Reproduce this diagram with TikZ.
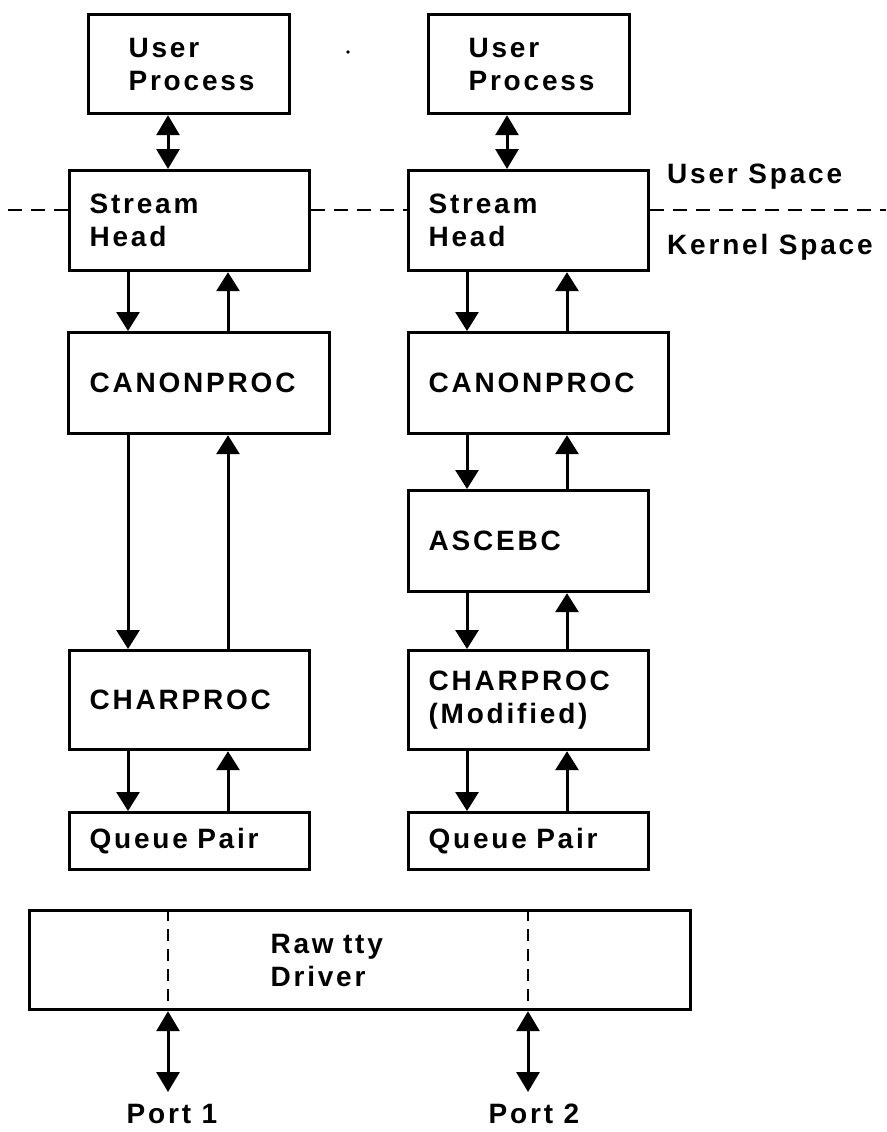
\documentclass[tikz,border=0pt]{standalone}
\usepackage{fontspec}
\newfontfamily\lblfont[LetterSpace=10]{Liberation Sans}
\newcommand\boxfont{\lblfont\bfseries\fontsize{28}{33}\selectfont}
\usetikzlibrary{arrows.meta}
\tikzset{
  blk/.style={draw, line width=3.2pt, anchor=north west, inner ysep=0pt,
    align=left, font=\boxfont},
  colbox/.style={blk, text width=200pt, inner xsep=20pt},
  flow/.style={-{Triangle[width=23pt,length=19pt]}, line width=3pt},
  dbl/.style={{Triangle[width=23pt,length=20pt]}-{Triangle[width=23pt,length=20pt]},
    line width=3pt},
  divline/.style={dash pattern=on 14pt off 9pt, line width=2.6pt},
  portline/.style={dash pattern=on 12pt off 8pt, line width=2.4pt},
  lbl/.style={font=\boxfont, inner sep=0pt},
}
\begin{document}
\begin{tikzpicture}[x=1pt,y=-1pt]
  \useasboundingbox (0,0) rectangle (886,1132);
  % user processes
  \node[blk, text width=121pt, inner xsep=40pt, minimum height=99pt] (up1) at (87,13) {User\\Process};
  \node[blk, text width=121pt, inner xsep=40pt, minimum height=99pt] (up2) at (427,13) {User\\Process};
  \fill (348,52) circle (1.8pt);
  % left stream
  \node[colbox, minimum height=100pt] (sh1) at (68,169) {Stream\\Head};
  \node[colbox, text width=219pt, inner xsep=21pt, minimum height=101pt] (cp1) at (67,331) {CANONPROC};
  \node[colbox, minimum height=99pt] (ch1) at (68,649) {CHARPROC};
  \node[colbox, minimum height=57pt] (qp1) at (68,811) {Queue Pair};
  % right stream
  \node[colbox, minimum height=100pt] (sh2) at (407,169) {Stream\\Head};
  \node[colbox, text width=220pt, minimum height=101pt] (cp2) at (407,331) {CANONPROC};
  \node[colbox, minimum height=101pt] (as2) at (407,489) {ASCEBC};
  \node[colbox, minimum height=99pt] (ch2) at (407,649) {CHARPROC\\(Modified)};
  \node[colbox, minimum height=57pt] (qp2) at (407,811) {Queue Pair};
  % driver
  \node[blk, text width=179pt, inner xsep=241pt, minimum height=99pt] (raw) at (28,909) {Raw tty\\Driver};

  % user/kernel boundary
  \coordinate (ksl) at (8,210);
  \coordinate (ksr) at (886,210);
  \draw[divline] (ksl) -- (ksl -| sh1.west);
  \draw[divline] (ksl -| sh1.east) -- (ksl -| sh2.west);
  \draw[divline] (ksl -| sh2.east) -- (ksr);
  \node[lbl, anchor=base west] (usp) at (667,183) {User Space};
  \node[lbl, anchor=base west] (ksp) at (667,254) {Kernel Space};

  % message flow
  \coordinate (dl) at (128,0);
  \coordinate (ul) at (228,0);
  \coordinate (dr) at (467,0);
  \coordinate (ur) at (567,0);
  \draw[dbl] (up1.south -| 168,0) -- (sh1.north -| 168,0);
  \draw[dbl] (up2.south -| 507,0) -- (sh2.north -| 507,0);
  \foreach \a/\b in {sh1/cp1, cp1/ch1, ch1/qp1} {
    \draw[flow] (\a.south -| dl) -- (\b.north -| dl);
    \draw[flow] (\b.north -| ul) -- (\a.south -| ul);
  }
  \foreach \a/\b in {sh2/cp2, cp2/as2, as2/ch2, ch2/qp2} {
    \draw[flow] (\a.south -| dr) -- (\b.north -| dr);
    \draw[flow] (\b.north -| ur) -- (\a.south -| ur);
  }

  % ports
  \coordinate (p1) at (168,1092);
  \coordinate (p2) at (528,1092);
  \foreach \p in {p1,p2} {
    \draw[portline] (raw.north -| \p) -- (raw.south -| \p);
    \draw[dbl] (raw.south -| \p) -- (\p);
  }
  \node[lbl, anchor=north] (port1) at (172,1104) {Port 1};
  \node[lbl, anchor=north] (port2) at (534,1104) {Port 2};
\end{tikzpicture}
\end{document}
